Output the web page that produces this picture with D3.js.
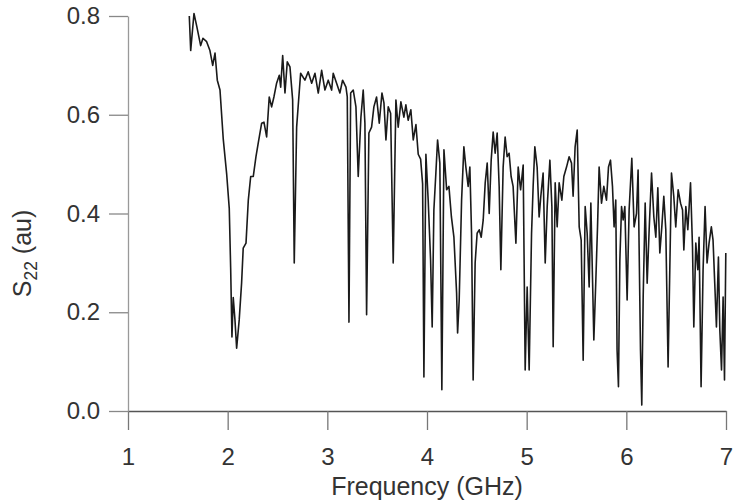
<!DOCTYPE html>
<html><head><meta charset="utf-8">
<script src="https://cdn.jsdelivr.net/npm/d3@7/dist/d3.min.js"></script>
<style>
body{margin:0;background:#fff;}
svg{display:block;font-family:"Liberation Sans",Arial,Helvetica,sans-serif;}
</style>
</head><body>
<svg id="chart" width="739" height="502"></svg>
<script>
// Frequency in GHz
const freqGHz = [
1.615,1.629,1.662,1.689,1.729,1.752,1.789,1.822,1.850,1.873,
1.896,1.923,1.956,1.990,2.016,2.030,2.043,2.056,2.073,2.090,
2.116,2.140,2.156,2.184,2.207,2.231,2.257,2.284,2.307,2.341,
2.364,2.391,2.417,2.441,2.464,2.491,2.518,2.532,2.552,2.575,
2.598,2.625,2.652,2.668,2.692,2.712,2.732,2.775,2.808,2.843,
2.876,2.909,2.943,2.976,3.009,3.043,3.059,3.093,3.126,3.153,
3.187,3.200,3.217,3.234,3.260,3.287,3.310,3.337,3.360,3.377,
3.394,3.417,3.444,3.467,3.494,3.521,3.548,3.568,3.588,3.611,
3.635,3.661,3.688,3.711,3.738,3.768,3.788,3.811,3.838,3.862,
3.889,3.912,3.936,3.956,3.969,3.989,4.012,4.036,4.052,4.069,
4.089,4.106,4.129,4.149,4.170,4.197,4.220,4.245,4.270,4.297,
4.307,4.323,4.347,4.370,4.390,4.413,4.430,4.447,4.463,4.483,
4.503,4.524,4.544,4.564,4.584,4.604,4.624,4.644,4.664,4.684,
4.704,4.724,4.741,4.764,4.784,4.804,4.824,4.844,4.864,4.892,
4.915,4.939,4.965,4.985,5.005,5.025,5.049,5.065,5.082,5.105,
5.125,5.142,5.165,5.186,5.206,5.233,5.253,5.266,5.286,5.306,
5.326,5.353,5.373,5.400,5.426,5.450,5.466,5.486,5.507,5.527,
5.547,5.567,5.587,5.607,5.627,5.644,5.661,5.674,5.694,5.711,
5.727,5.751,5.774,5.801,5.821,5.841,5.861,5.877,5.894,5.907,
5.921,5.935,5.952,5.968,5.985,6.008,6.028,6.055,6.078,6.102,
6.118,6.142,6.155,6.169,6.189,6.209,6.229,6.253,6.276,6.296,
6.316,6.336,6.356,6.376,6.396,6.419,6.436,6.453,6.476,6.496,
6.520,6.544,6.564,6.577,6.597,6.617,6.644,6.664,6.677,6.697,
6.717,6.730,6.750,6.770,6.790,6.810,6.830,6.853,6.870,6.887,
6.904,6.924,6.938,6.955,6.971,6.985,6.998
];
// S22 magnitude (au)
const s22 = [
0.80,0.73,0.805,0.78,0.74,0.755,0.748,0.73,0.70,0.725,
0.67,0.65,0.55,0.48,0.41,0.29,0.15,0.23,0.185,0.127,
0.185,0.26,0.33,0.34,0.427,0.475,0.475,0.515,0.543,0.583,
0.585,0.555,0.636,0.616,0.636,0.664,0.68,0.656,0.72,0.644,
0.707,0.697,0.63,0.30,0.575,0.63,0.684,0.67,0.687,0.664,
0.684,0.644,0.69,0.65,0.67,0.65,0.684,0.664,0.644,0.67,
0.656,0.636,0.18,0.644,0.65,0.616,0.475,0.595,0.65,0.583,
0.195,0.563,0.575,0.616,0.636,0.583,0.644,0.624,0.549,0.616,
0.603,0.30,0.63,0.575,0.626,0.595,0.62,0.589,0.61,0.549,
0.58,0.52,0.51,0.46,0.069,0.52,0.427,0.306,0.17,0.407,
0.482,0.549,0.502,0.043,0.529,0.448,0.455,0.393,0.352,0.239,
0.158,0.225,0.427,0.535,0.494,0.455,0.494,0.36,0.063,0.30,
0.36,0.367,0.352,0.387,0.462,0.502,0.40,0.508,0.565,0.522,
0.563,0.455,0.286,0.494,0.555,0.515,0.522,0.475,0.455,0.34,
0.494,0.448,0.498,0.083,0.251,0.083,0.36,0.455,0.535,0.494,
0.393,0.435,0.482,0.30,0.414,0.508,0.414,0.13,0.462,0.373,
0.462,0.427,0.475,0.494,0.515,0.502,0.435,0.535,0.569,0.373,
0.346,0.103,0.414,0.36,0.251,0.421,0.265,0.144,0.265,0.373,
0.494,0.421,0.455,0.427,0.494,0.508,0.455,0.373,0.427,0.124,
0.049,0.306,0.414,0.387,0.414,0.225,0.407,0.512,0.373,0.40,
0.488,0.124,0.012,0.231,0.421,0.259,0.367,0.482,0.393,0.352,
0.452,0.32,0.373,0.435,0.367,0.089,0.286,0.482,0.435,0.373,
0.448,0.421,0.407,0.326,0.414,0.367,0.462,0.332,0.17,0.34,
0.286,0.352,0.049,0.286,0.414,0.30,0.34,0.373,0.346,0.259,
0.17,0.312,0.164,0.083,0.231,0.063,0.32
];
const xTicks = [1,2,3,4,5,6,7];
const yTicks = [0.0,0.2,0.4,0.6,0.8];
const xDomain = [1,7];
const yDomain = [0,0.8];
const xTitle = "Frequency (GHz)";
const yTitleMain = "S";
const yTitleSub = "22";
const yTitleRest = " (au)";

const data = d3.zip(freqGHz, s22);

const W = 739, H = 502;
const margin = {left:128, right:13, top:16, bottom:91};
const svg = d3.select("#chart");

const x = d3.scaleLinear().domain(xDomain).range([margin.left, W - margin.right]);
const y = d3.scaleLinear().domain(yDomain).range([H - margin.bottom, margin.top]);

const tickFont = 24;
const titleFont = 25;

// X axis
const gx = svg.append("g")
  .attr("transform", `translate(0,${H - margin.bottom})`)
  .call(d3.axisBottom(x).tickValues(xTicks).tickFormat(d3.format("d"))
    .tickSizeInner(19).tickSizeOuter(0).tickPadding(18));
gx.select(".domain").attr("stroke", "#555").attr("stroke-width", 1.3);
gx.selectAll(".tick line").attr("stroke", "#777").attr("stroke-width", 1.3);
gx.selectAll(".tick text").attr("font-size", tickFont).attr("fill", "#333")
  .attr("font-family", "Liberation Sans, Arial, sans-serif");

// Y axis
const gy = svg.append("g")
  .attr("transform", `translate(${margin.left},0)`)
  .call(d3.axisLeft(y).tickValues(yTicks).tickFormat(d3.format(".1f"))
    .tickSizeInner(19).tickSizeOuter(0).tickPadding(9));
gy.select(".domain").attr("stroke", "#999").attr("stroke-width", 1.3);
gy.selectAll(".tick line").attr("stroke", "#888").attr("stroke-width", 1.3);
gy.selectAll(".tick text").attr("font-size", tickFont).attr("fill", "#333")
  .attr("font-family", "Liberation Sans, Arial, sans-serif");

// Data line
const line = d3.line().x(d => x(d[0])).y(d => y(d[1]));
svg.append("path")
  .datum(data)
  .attr("fill", "none")
  .attr("stroke", "#1a1a1a")
  .attr("stroke-width", 1.6)
  .attr("stroke-linejoin", "round")
  .attr("d", line);

// X title
svg.append("text")
  .attr("x", (x.range()[0] + x.range()[1]) / 2)
  .attr("y", 495)
  .attr("text-anchor", "middle")
  .attr("font-size", titleFont)
  .attr("fill", "#333")
  .text(xTitle);

// Y title
const yt = svg.append("text")
  .attr("transform", `translate(31,${(y.range()[0] + y.range()[1]) / 2 + 40}) rotate(-90)`)
  .attr("text-anchor", "middle")
  .attr("font-size", titleFont)
  .attr("fill", "#333");
yt.append("tspan").text(yTitleMain);
yt.append("tspan").attr("font-size", titleFont * 0.7).attr("dy", "0.35em").text(yTitleSub);
yt.append("tspan").attr("dy", "-0.245em").text(yTitleRest);
</script>
</body></html>
